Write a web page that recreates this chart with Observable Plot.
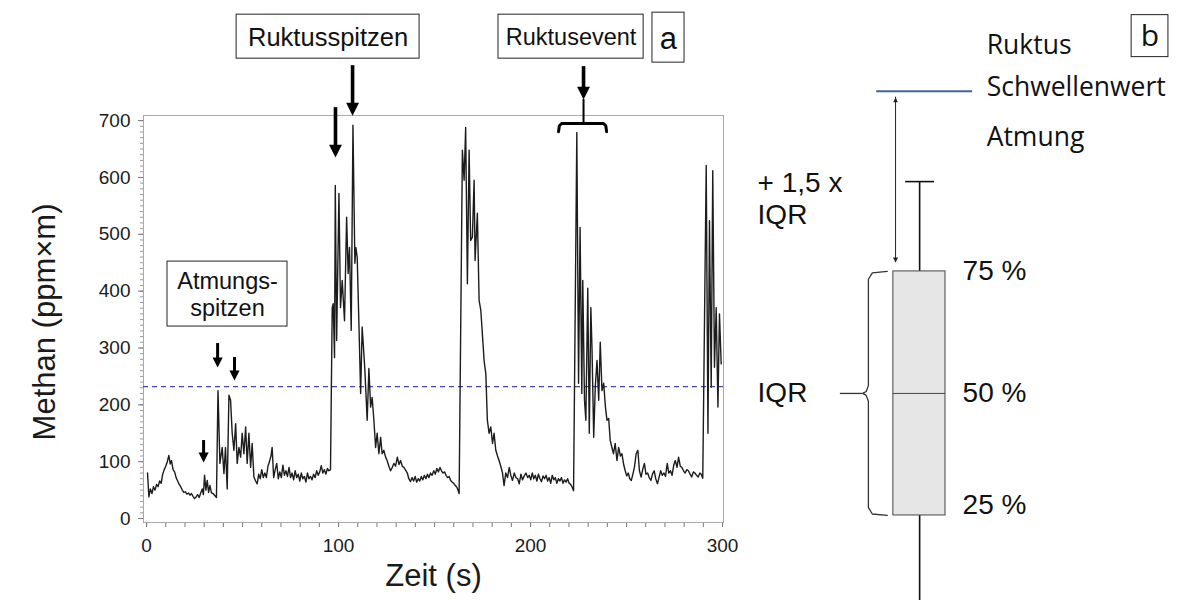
<!DOCTYPE html>
<html>
<head>
<meta charset="utf-8">
<script src="https://cdn.jsdelivr.net/npm/d3@7"></script>
<script src="https://cdn.jsdelivr.net/npm/@observablehq/plot@0.6"></script>
<style>
html, body { margin: 0; padding: 0; background: #fff; }
#fig { position: relative; width: 1178px; height: 600px; overflow: hidden; background: #fff; }
#fig svg { position: absolute; top: 0; }
</style>
</head>
<body>
<div id="fig"></div>
<script>
// ---------- data: panel a (time series) ----------
const timeS = [
0.5,1.2,2,2.8,3.6,4.4,5.2,6,6.8,7.6,8.4,9.2,10,10.8,11.6,12.3,13,13.8,14.6,15.4,16.2,17,17.8,18.6,19.4,20.2,21,21.8,22.6,23.4,24.2,25,25.8,26.6,27.4,28.2,29,29.6,30.2,30.9,31.6,32.3,33,33.8,34.6,35.4,36.4,37.2,38.2,39.4,40.3,41.1,42,42.9,43.75,44.6,45.5,46.4,47.2,48.1,49,49.8,50.7,51.6,52.4,53.3,54.2,55,55.9,56.8,57.6,58.4,59.2,60,60.8,61.6,62.4,63.2,64,64.8,65.4,66.2,67,67.8,68.6,69.4,70.2,71,71.8,72.6,73.4,74.2,75,75.8,76.6,77.4,78.2,79,79.8,80.6,81.4,82.2,83,83.8,84.6,85.4,86.2,87,87.8,88.6,89.4,90.2,91,91.8,92.6,93.4,94.2,95,95.8,
96.7,97.2,97.9,98.3,99,100.2,101,101.9,103.1,104.2,105,105.7,106.6,107.5,108.5,109,109.7,110.6,111.5,112.3,113,113.7,114.9,115.8,116.7,117.5,118.4,119.3,120.1,121,121.9,122.7,123.6,124.5,125.3,126.2,127.1,128,128.8,129.7,130.6,131.5,132.3,133.2,134,134.9,135.8,136.6,137.5,138.3,139.1,139.9,140.7,141.5,142.3,143.1,143.9,144.7,145.5,146.3,147.1,147.9,148.7,149.6,150.4,151.2,152,152.8,153.6,154.4,155.2,156,156.8,157.6,158.4,159.2,160,160.8,161.6,162.2,162.8,
164.5,165.4,166.2,167.1,168,168.8,169.7,170.6,171.1,172.3,173.2,174.1,174.9,175.8,176.7,177.5,178.4,179.3,180.2,181,181.9,182.8,183.6,184.5,185.4,186.2,187.1,188,188.9,189.8,190.6,191.5,192.4,193.3,194.1,195,195.8,196.7,197.6,198.5,199.3,200.1,200.9,201.7,202.5,203.3,204.1,204.9,205.7,206.5,207.3,208.1,208.9,209.7,210.5,211.3,212.1,212.9,213.7,214.5,215.3,216.1,216.9,217.7,218.5,219.3,220.1,220.9,221.7,222.4,
224.1,225,225.8,226.7,227.2,228.1,228.8,229.8,230.6,231.4,232,232.9,233.7,234.6,235.5,236.3,237.2,238.1,239,239.8,240.7,241.5,242.4,243.2,244.1,245,245.9,246.8,247.6,248.5,249.3,250.1,250.9,251.7,252.5,253.3,254.1,255,255.9,256.7,257.6,258.4,259.3,260.1,261,261.8,262.7,263.5,264.4,265.2,266.1,266.9,267.8,268.6,269.5,270.3,271.2,272,272.9,273.7,274.6,275.4,276.3,277.1,278,278.8,279.7,280.5,281.4,282.2,283.1,283.9,284.8,285.6,286.5,287.3,288.2,288.9,289.7,
291.5,292.4,293.2,294.1,294.9,295.8,296.7,297.6,298.4,299.3
];
const methane = [
80,38,52,44,56,50,60,56,66,62,78,86,92,100,111,96,102,86,82,72,66,60,56,50,46,47,43,45,41,44,39,35,38,42,37,45,52,42,76,50,67,46,58,45,44,41,37,225,97,125,79,125,52,217,208,150,120,167,97,125,108,150,114,161,97,150,90,132,73,66,61,78,70,86,72,80,72,92,100,110,125,72,86,97,70,82,72,94,76,84,74,90,72,80,68,84,72,78,66,80,70,74,64,80,70,74,68,78,72,84,76,82,93,80,86,78,88,84,86,
371,378,283,586,313,572,371,419,348,530,431,477,331,692,449,477,460,343,220,337,300,261,173,264,196,213,173,125,150,114,143,114,120,108,102,92,84,90,97,92,108,95,102,92,90,85,80,70,65,72,66,74,64,70,66,74,68,76,70,78,72,80,76,84,78,88,82,90,84,80,82,76,72,74,67,64,62,58,55,50,44,
648,595,688,413,648,489,495,595,454,537,384,366,325,278,255,173,150,161,132,150,120,110,102,92,80,58,80,72,90,75,67,80,72,70,61,78,68,75,80,72,76,68,80,70,76,66,78,70,65,75,70,76,66,72,62,76,68,72,62,70,66,72,62,68,64,70,62,60,55,49,
679,238,512,220,419,208,173,405,150,371,301,143,231,278,208,310,225,238,196,173,176,137,125,114,132,102,125,110,114,95,84,75,80,70,67,78,90,114,120,84,73,86,97,78,80,72,67,78,84,70,61,72,84,76,80,74,97,80,84,76,94,102,90,108,92,90,84,80,86,84,78,73,82,80,76,73,80,78,71,
621,150,524,231,612,266,371,196,360,272
];
const thresholdA = 232;                 // dashed threshold (ppm×m)
const xMajorTicks = [0, 100, 200, 300];
const xMinorTicks = d3.range(0, 301, 10);
const yMajorTicks = [0, 100, 200, 300, 400, 500, 600, 700];
const yMinorTicks = d3.range(0, 701, 10);
const xTitle = "Zeit (s)";
const yTitle = "Methan (ppm×m)";

// annotation boxes of panel a (data coordinates)
const annoLabels = ["Ruktusspitzen", "Ruktusevent", "a", "Atmungs-\nspitzen"];
const annoX1 = [46.9, 183.3, 263.5, 10.9];
const annoX2 = [142.2, 258.9, 280.2, 73.4];
const annoY1 = [809, 809, 802, 337.7];
const annoY2 = [886.4, 886.4, 889.9, 452];
const annoSize = [25.5, 23.5, 31, 23.5];
// arrows of panel a: x, tail y, tip y
const bigArrowX = [107.3, 98.4, 227.6];
const bigArrowTail = [796.7, 722.8, 795];
const bigArrowTip = [708.7, 634.9, 737];
const smallArrowX = [37, 45.8, 29.7];
const smallArrowTail = [307.8, 283.2, 137.2];
const smallArrowTip = [265.6, 242.7, 98.5];
// bracket of the "Ruktusevent"
const eventStart = 214.6, eventEnd = 239.6, eventMid = 227.6;

// ---------- data: panel b (schematic box plot) ----------
const quantileNames = ["25 %", "50 %", "75 %"];
const quantileValues = [25, 50, 75];
const whiskerHigh = 93.4;
const whiskerLow = 0;
const thresholdB = 111.9;
const bLegend = ["Ruktus", "Schwellenwert", "Atmung"];
const bLegendY = [121.3, 112.6, 102.5];

// ---------- build ----------
const series = timeS.map((t, i) => ({t, v: methane[i]}));
const annos = annoLabels.map((label, i) => ({label, x1: annoX1[i], x2: annoX2[i], y1: annoY1[i], y2: annoY2[i], cx: (annoX1[i] + annoX2[i]) / 2, cy: (annoY1[i] + annoY2[i]) / 2, size: annoSize[i]}));
const bigArrows = bigArrowX.map((x, i) => ({x, tail: bigArrowTail[i], tip: bigArrowTip[i]}));
const smallArrows = smallArrowX.map((x, i) => ({x, tail: smallArrowTail[i], tip: smallArrowTip[i]}));

// down-pointing arrow head whose tip sits at the anchor point
const headDown = {
  draw(ctx, size) {
    const s = Math.sqrt(size);
    const w = s * 0.55, h = s * 1.1;
    ctx.moveTo(0, 0);
    ctx.lineTo(-w, -h);
    ctx.lineTo(w, -h);
    ctx.closePath();
  }
};

const bracketPts = [
  {x: eventStart, y: 680.6}, {x: eventStart + 0.4, y: 691}, {x: eventStart + 1.6, y: 695},
  {x: eventEnd - 1.6, y: 695}, {x: eventEnd - 0.4, y: 691}, {x: eventEnd, y: 680.6}
];

const sans = "'Liberation Sans', Arial, sans-serif";

const panelA = Plot.plot({
  width: 740, height: 600,
  marginLeft: 143, marginRight: 17, marginTop: 115, marginBottom: 78,
  x: {domain: [-1.6, 300.5], label: null},
  y: {domain: [-7, 709], label: null},
  style: {fontFamily: sans, fontSize: "19px", color: "#1a1a1a", background: "transparent", overflow: "visible"},
  marks: [
    Plot.axisX({ticks: xMinorTicks, tickSize: 5, fill: "none", stroke: "#777", label: null}),
    Plot.axisX({ticks: xMajorTicks, tickSize: 5, tickPadding: 11, stroke: "#777", label: null, fontSize: 19}),
    Plot.axisY({ticks: yMinorTicks, tickSize: 3, fill: "none", stroke: "#999", label: null}),
    Plot.axisY({ticks: yMajorTicks, tickSize: 5, tickPadding: 8, stroke: "#777", label: null, fontSize: 19}),
    Plot.frame({stroke: "#a8a8a8"}),
    Plot.ruleY([thresholdA], {stroke: "#4646a8", strokeWidth: 1.3, strokeDasharray: "5,4"}),
    Plot.line(series, {x: "t", y: "v", stroke: "#1c1c1c", strokeWidth: 1.4}),
    Plot.text([yTitle], {frameAnchor: "left", textAnchor: "middle", dx: -98, dy: 3, rotate: -90, fontSize: 31}),
    Plot.text([xTitle], {frameAnchor: "bottom", textAnchor: "middle", dy: 63, fontSize: 31}),
    // annotation boxes
    Plot.rect(annos, {x1: "x1", x2: "x2", y1: "y1", y2: "y2", fill: "white", stroke: "#222", strokeWidth: 1}),
    Plot.text(annos, {x: "cx", y: "cy", text: "label", fontSize: d => d.size, lineHeight: 1.12, fill: "#111"}),
    // arrows
    Plot.ruleX(bigArrows, {x: "x", y1: "tail", y2: d => d.tip + 16, stroke: "#000", strokeWidth: 3.6}),
    Plot.dot(bigArrows, {x: "x", y: "tip", symbol: headDown, r: 6.6, fill: "#000", stroke: "none"}),
    Plot.ruleX(smallArrows, {x: "x", y1: "tail", y2: d => d.tip + 12, stroke: "#000", strokeWidth: 3}),
    Plot.dot(smallArrows, {x: "x", y: "tip", symbol: headDown, r: 5.2, fill: "#000", stroke: "none"}),
    Plot.ruleX([eventMid], {y1: 695, y2: 737, stroke: "#000", strokeWidth: 2}),
    Plot.line(bracketPts, {x: "x", y: "y", stroke: "#000", strokeWidth: 3, strokeLinejoin: "round"})
  ]
});
panelA.style.left = "0px";

// panel b
const q1 = quantileValues[0], med = quantileValues[1], q3 = quantileValues[2];
const boxX1 = 34.9, boxX2 = 46.8, boxMid = 40.9;
const braceTip = 33.5, braceSpine = 29.2, braceNose = 27.9;
const bracePts = [
  {x: braceTip, y: q3}, {x: braceSpine + 0.9, y: q3 - 0.3}, {x: braceSpine, y: q3 - 1.6},
  {x: braceSpine, y: med + 1.6}, {x: braceSpine - 0.5, y: med + 0.4}, {x: braceNose, y: med},
  {x: braceSpine - 0.5, y: med - 0.4}, {x: braceSpine, y: med - 1.6},
  {x: braceSpine, y: q1 + 1.6}, {x: braceSpine + 0.9, y: q1 + 0.3}, {x: braceTip, y: q1}
];
const calibriLike = "'Open Sans', 'Noto Sans', sans-serif";

// small filled arrow heads for the double arrow (up and down)
const headUp = {
  draw(ctx, size) {
    const s = Math.sqrt(size);
    const w = s * 0.5, h = s * 1.1;
    ctx.moveTo(0, 0);
    ctx.lineTo(-w, h);
    ctx.lineTo(w, h);
    ctx.closePath();
  }
};
const arrowTopB = thresholdB - 1.2, arrowBottomB = q3 + 1.8;

const panelB = Plot.plot({
  width: 438, height: 600,
  marginLeft: 0, marginRight: 0, marginTop: 0, marginBottom: 0,
  x: {domain: [0, 100], axis: null},
  y: {domain: [7.58, 130.5], axis: null},
  style: {fontFamily: sans, color: "#1a1a1a", background: "transparent", overflow: "visible"},
  marks: [
    Plot.ruleX([boxMid], {y1: whiskerLow, y2: q1, stroke: "#111", strokeWidth: 1.6}),
    Plot.ruleX([boxMid], {y1: q3, y2: whiskerHigh, stroke: "#111", strokeWidth: 1.6}),
    Plot.ruleY([whiskerHigh], {x1: 37.7, x2: 44.3, stroke: "#111", strokeWidth: 1.6}),
    Plot.rect([{q1, q3}], {x1: boxX1, x2: boxX2, y1: "q1", y2: "q3", fill: "#e6e6e6", stroke: "#444", strokeWidth: 1}),
    Plot.ruleY([med], {x1: boxX1, x2: boxX2, stroke: "#444", strokeWidth: 1}),
    Plot.ruleY([thresholdB], {x1: 31.1, x2: 53, stroke: "#3f62a0", strokeWidth: 2}),
    Plot.ruleX([35.4], {y1: arrowBottomB, y2: arrowTopB, stroke: "#222", strokeWidth: 1}),
    Plot.dot([arrowTopB], {x: 35.4, y: d => d, symbol: headUp, r: 2.6, fill: "#222", stroke: "none"}),
    Plot.dot([arrowBottomB], {x: 35.4, y: d => d, symbol: headDown, r: 2.6, fill: "#222", stroke: "none"}),
    Plot.line(bracePts, {x: "x", y: "y", stroke: "#333", strokeWidth: 1.3, curve: "linear"}),
    Plot.ruleY([med], {x1: 22.8, x2: braceNose, stroke: "#333", strokeWidth: 1.3}),
    Plot.text(quantileNames, {x: 50.7, y: (d, i) => quantileValues[i] + (i === 0 ? 2.2 : 0), textAnchor: "start", fontSize: 28, fill: "#111"}),
    Plot.text(["IQR"], {x: 3.9, y: med, textAnchor: "start", fontSize: 28, fill: "#111"}),
    Plot.text(["+ 1,5 x"], {x: 3.9, y: 93.2, textAnchor: "start", fontSize: 28, fill: "#111", wordSpacing: "4px"}),
    Plot.text(["IQR"], {x: 3.9, y: 86.6, textAnchor: "start", fontSize: 28, fill: "#111"}),
    Plot.text(bLegend, {x: 56.2, y: (d, i) => bLegendY[i], textAnchor: "start", fontSize: 26.5, fontFamily: calibriLike, fill: "#111"}),
    Plot.rect([{}], {x1: 89.3, x2: 97.7, y1: 118.9, y2: 127.5, fill: "white", stroke: "#222", strokeWidth: 1}),
    Plot.text(["b"], {x: 93.5, y: 123.2, fontSize: 30, fontFamily: calibriLike, fill: "#111"})
  ]
});
panelB.style.left = "740px";

const fig = document.getElementById("fig");
fig.appendChild(panelA);
fig.appendChild(panelB);
</script>
</body>
</html>
